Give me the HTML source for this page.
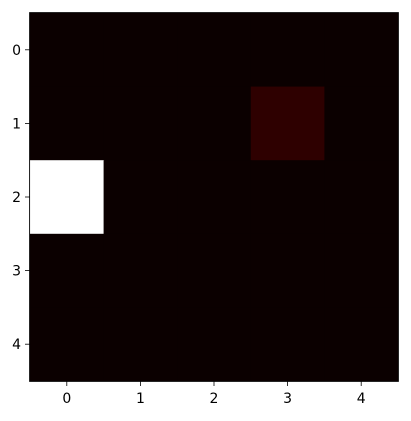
<!DOCTYPE html>
<html><head><meta charset="utf-8"><style>
html,body{margin:0;padding:0;background:#fff;}
svg text{font-family:"DejaVu Sans","Liberation Sans",sans-serif;font-size:14px;fill:#000;}
</style></head><body>
<svg id="chart" width="411" height="416" xmlns="http://www.w3.org/2000/svg">
<g id="cells"></g>
<rect x="29.6" y="12.6" width="368.8" height="368.8" fill="none" stroke="#000" stroke-width="0.9"/>
<g id="axes"></g>
</svg>
<script>
const rowLabels = ["0","1","2","3","4"];
const colLabels = ["0","1","2","3","4"];
const values = [
  [0,0,0,0,0],
  [0,0,0,0.053,0],
  [1,0,0,0,0],
  [0,0,0,0,0],
  [0,0,0,0,0]
];
const L=30,T=13,W=368,H=368;
const nR=rowLabels.length,nC=colLabels.length;
const cw=W/nC,ch=H/nR;
const xPos=i=>L+i*cw, yPos=j=>T+j*ch;
function hot(v){
  const r=Math.min(1,0.0416+(1-0.0416)*v/0.365);
  const g=Math.max(0,Math.min(1,(v-0.365)/0.381));
  const b=Math.max(0,Math.min(1,(v-0.746)/0.254));
  return `rgb(${Math.round(r*255)},${Math.round(g*255)},${Math.round(b*255)})`;
}
const NS="http://www.w3.org/2000/svg";
const cells=document.getElementById('cells');
let mn=Infinity,mx=-Infinity;
values.forEach(r=>r.forEach(v=>{mn=Math.min(mn,v);mx=Math.max(mx,v);}));
values.forEach((row,j)=>row.forEach((v,i)=>{
  const r=document.createElementNS(NS,'rect');
  r.setAttribute('x',xPos(i));r.setAttribute('y',yPos(j));
  r.setAttribute('width',cw+0.5);r.setAttribute('height',ch+0.5);
  r.setAttribute('fill',hot((v-mn)/((mx-mn)||1)));
  
  
  cells.appendChild(r);
}));
const ax=document.getElementById('axes');
colLabels.forEach((lab,i)=>{
  const x=xPos(i)+cw/2;
  const l=document.createElementNS(NS,'line');
  l.setAttribute('x1',x);l.setAttribute('x2',x);l.setAttribute('y1',T+H);l.setAttribute('y2',T+H+5);
  l.setAttribute('stroke','#000');l.setAttribute('stroke-width','0.8');
  
  
  ax.appendChild(l);
  const t=document.createElementNS(NS,'text');
  t.setAttribute('x',x);t.setAttribute('y',T+H+22);t.setAttribute('text-anchor','middle');
  t.textContent=lab;
  
  
  ax.appendChild(t);
});
rowLabels.forEach((lab,j)=>{
  const y=yPos(j)+ch/2;
  const l=document.createElementNS(NS,'line');
  l.setAttribute('x1',L-5);l.setAttribute('x2',L);l.setAttribute('y1',y);l.setAttribute('y2',y);
  l.setAttribute('stroke','#000');l.setAttribute('stroke-width','0.8');
  
  
  ax.appendChild(l);
  const t=document.createElementNS(NS,'text');
  t.setAttribute('x',L-9);t.setAttribute('y',y+5);t.setAttribute('text-anchor','end');
  t.textContent=lab;
  
  
  ax.appendChild(t);
});
</script>
</body></html>
